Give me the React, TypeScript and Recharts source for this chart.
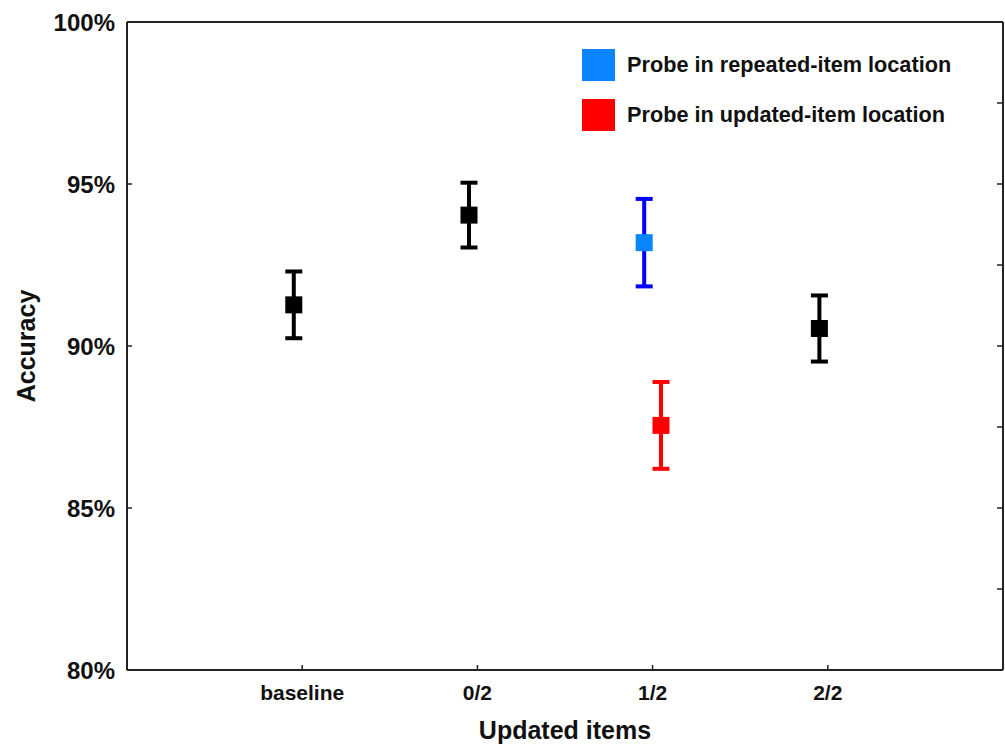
import React from 'react';
import { ScatterChart, Scatter, XAxis, YAxis, ErrorBar, ReferenceLine, Legend, Label } from 'recharts';

const categories = ['baseline', '0/2', '1/2', '2/2'];
const blackValues: (number | null)[] = [91.27, 94.04, null, 90.54];
const blackErrors: (number | null)[] = [1.03, 1.0, null, 1.02];
const blueValues: (number | null)[] = [null, null, 93.19, null];
const blueErrors: (number | null)[] = [null, null, 1.35, null];
const redValues: (number | null)[] = [null, null, 87.55, null];
const redErrors: (number | null)[] = [null, null, 1.34, null];
const yTicks = [80, 85, 90, 95, 100];
const rightTicks = [82.5, 85, 87.5, 90, 92.5, 95, 97.5];
const legendItems = [
  { label: 'Probe in repeated-item location', color: '#0a84ff' },
  { label: 'Probe in updated-item location', color: '#ff0000' },
];

const FONT = '"Liberation Sans", Arial, sans-serif';
const FRAME = '#222';
const LEFT_SHIFT = -0.048;
const RIGHT_SHIFT = 0.048;

function build(values: (number | null)[], errors: (number | null)[], shift: number) {
  const out: { x: number; y: number; err: number }[] = [];
  values.forEach((v, i) => {
    if (v !== null && errors[i] !== null) out.push({ x: i + 1 + shift, y: v, err: errors[i] as number });
  });
  return out;
}

const blackData = build(blackValues, blackErrors, LEFT_SHIFT);
const blueData = build(blueValues, blueErrors, LEFT_SHIFT);
const redData = build(redValues, redErrors, RIGHT_SHIFT);

const squareShape = (color: string) => (props: any) => {
  const { cx, cy } = props;
  if (cx == null || cy == null) return <g />;
  return <rect x={cx - 8.5} y={cy - 8.5} width={17} height={17} fill={color} />;
};

const LeftTick = (props: any) => {
  const { x, y, payload } = props;
  const showLine = payload.value !== 80 && payload.value !== 100;
  return (
    <g>
      {showLine && <line x1={x} y1={y} x2={x + 5} y2={y} stroke={FRAME} strokeWidth={1.5} />}
      <text x={x - 12} y={y + 8.5} textAnchor="end" fontFamily={FONT} fontWeight="bold" fontSize={24} fill="#111">
        {`${payload.value}%`}
      </text>
    </g>
  );
};

const RightTick = (props: any) => {
  const { x, y } = props;
  return <line x1={x - 6} y1={y} x2={x} y2={y} stroke={FRAME} strokeWidth={1.5} />;
};

const BottomTick = (props: any) => {
  const { x, y, payload } = props;
  const idx = Math.round(payload.value) - 1;
  const label = categories[idx];
  if (!label) return <g />;
  return (
    <g>
      <line x1={x} y1={y} x2={x} y2={y - 5} stroke={FRAME} strokeWidth={1.5} />
      <text x={x} y={y + 30} textAnchor="middle" fontFamily={FONT} fontWeight="bold" fontSize={21} fill="#111">
        {label}
      </text>
    </g>
  );
};

const LegendContent = () => (
  <div style={{ fontFamily: FONT }}>
    {legendItems.map((it, i) => (
      <div key={i} style={{ display: 'flex', alignItems: 'center', height: 33, marginBottom: i === 0 ? 17 : 0 }}>
        <div style={{ width: 33, height: 32, background: it.color, marginRight: 12 }} />
        <span style={{ fontWeight: 'bold', fontSize: 21.7, color: '#111', whiteSpace: 'nowrap' }}>{it.label}</span>
      </div>
    ))}
  </div>
);

export default function App() {
  return (
    <div style={{ position: 'absolute', left: 0, top: 0, background: '#fff' }}>
      <ScatterChart width={1005} height={745} margin={{ top: 22, right: 1, bottom: 0, left: 0 }}>
        <XAxis
          type="number"
          dataKey="x"
          domain={[0, 5]}
          ticks={[1, 2, 3, 4]}
          allowDataOverflow
          height={75}
          tickSize={0}
          tickMargin={0}
          tick={<BottomTick />}
          axisLine={{ stroke: FRAME, strokeWidth: 2 }}
          tickLine={false}
        >
          <Label
            content={(p: any) => {
              const vb = p.viewBox;
              return (
                <text x={vb.x + vb.width / 2} y={739} textAnchor="middle" fontFamily={FONT} fontWeight="bold" fontSize={25} fill="#111">
                  Updated items
                </text>
              );
            }}
          />
        </XAxis>
        <YAxis
          type="number"
          dataKey="y"
          domain={[80, 100]}
          ticks={yTicks}
          allowDataOverflow
          width={127}
          tickSize={0}
          tickMargin={0}
          tick={<LeftTick />}
          axisLine={{ stroke: FRAME, strokeWidth: 2 }}
          tickLine={false}
        >
          <Label
            content={(p: any) => {
              const vb = p.viewBox;
              const cy = vb.y + vb.height / 2;
              return (
                <text x={35} y={cy} transform={`rotate(-90 35 ${cy})`} textAnchor="middle" fontFamily={FONT} fontWeight="bold" fontSize={25} fill="#111">
                  Accuracy
                </text>
              );
            }}
          />
        </YAxis>
        <YAxis
          yAxisId="r"
          orientation="right"
          type="number"
          domain={[80, 100]}
          ticks={rightTicks}
          allowDataOverflow
          width={1}
          tickSize={0}
          tickMargin={0}
          tick={<RightTick />}
          axisLine={{ stroke: FRAME, strokeWidth: 2 }}
          tickLine={false}
        />
        <ReferenceLine y={100} stroke={FRAME} strokeWidth={2} ifOverflow="visible" />
        <Scatter name="black" data={blackData} fill="#000" shape={squareShape('#000')} isAnimationActive={false} legendType="none">
          <ErrorBar dataKey="err" direction="y" stroke="#000" strokeWidth={4} width={8.5} isAnimationActive={false} />
        </Scatter>
        <Scatter name="Probe in repeated-item location" data={blueData} fill="#0a84ff" shape={squareShape('#0a84ff')} isAnimationActive={false}>
          <ErrorBar dataKey="err" direction="y" stroke="#0000ff" strokeWidth={4} width={8.5} isAnimationActive={false} />
        </Scatter>
        <Scatter name="Probe in updated-item location" data={redData} fill="#ff0000" shape={squareShape('#ff0000')} isAnimationActive={false}>
          <ErrorBar dataKey="err" direction="y" stroke="#ff0000" strokeWidth={4} width={8.5} isAnimationActive={false} />
        </Scatter>
        <Legend
          layout="vertical"
          align="center"
          verticalAlign="middle"
          content={<LegendContent />}
          wrapperStyle={{ position: 'absolute', left: 582, top: 48, width: 400, height: 85 }}
        />
      </ScatterChart>
    </div>
  );
}
